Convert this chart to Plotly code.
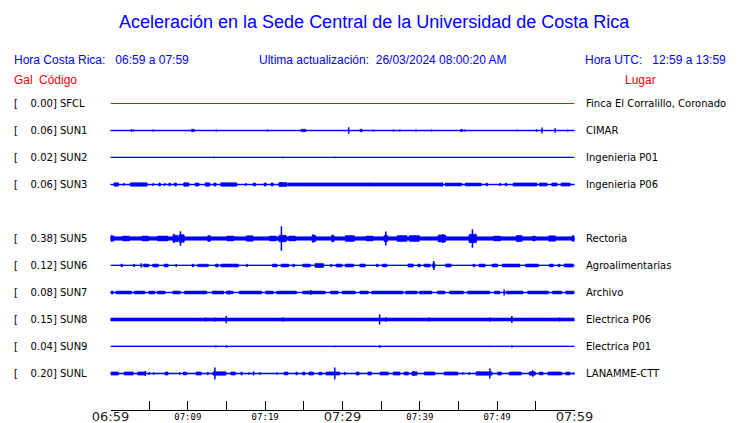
import plotly.graph_objects as go

# ---------------- text / data ----------------
title_text = "Aceleración en la Sede Central de la Universidad de Costa Rica"
hora_cr = "06:59 a 07:59"
ultima = "26/03/2024 08:00:20 AM"
hora_utc = "12:59 a 13:59"

codes = ["SFCL", "SUN1", "SUN2", "SUN3", "SUN5", "SUN6", "SUN7", "SUN8", "SUN9", "SUNL"]
max_gal = [0.00, 0.06, 0.02, 0.06, 0.38, 0.12, 0.08, 0.15, 0.04, 0.20]
places = ["Finca El Corralillo, Coronado", "CIMAR", "Ingenieria P01", "Ingenieria P06",
          "Rectoria", "Agroalimentarias", "Archivo", "Electrica P06", "Electrica P01", "LANAMME-CTT"]

# minutes after 06:59
tick_minutes = [0, 5, 10, 15, 20, 25, 30, 35, 40, 45, 50, 55, 60]
major_labels = ["06:59", "", "", "", "", "", "07:29", "", "", "", "", "", "07:59"]
minor_minutes = [10, 20, 40, 50]
minor_labels = ["07:09", "07:19", "07:39", "07:49"]

# background noise level of each trace (Gal)
noise_floor = [0.0, 0.012, 0.008, 0.012, 0.052, 0.010, 0.012, 0.046, 0.010, 0.015]

# bursts: (start minute, end minute, half amplitude in Gal)
bursts_SFCL = []
bursts_SUN1 = [(10.4, 10.9, 0.04), (24.6, 25.3, 0.04), (32.2, 32.6, 0.04), (45.2, 45.6, 0.035)]
bursts_SUN2 = []
bursts_SUN3 = [(0.4, 1.1, 0.055), (1.6, 1.8, 0.05), (2.5, 4.8, 0.055), (5.4, 5.6, 0.05), (6.2, 6.5, 0.05),
               (6.9, 7.1, 0.05), (7.5, 7.8, 0.05), (8.2, 8.6, 0.05), (9.4, 10.2, 0.055), (10.9, 11.5, 0.05),
               (12.2, 12.9, 0.055), (13.3, 13.7, 0.05), (14.2, 16.4, 0.055), (17.4, 17.6, 0.05),
               (18.4, 18.8, 0.05), (19.8, 20.2, 0.05), (20.7, 21.1, 0.05), (21.7, 22.9, 0.06),
               (22.9, 33.6, 0.05), (33.6, 42.9, 0.05), (43.2, 45.5, 0.045), (45.8, 48.0, 0.045),
               (48.5, 48.8, 0.045), (50.3, 50.5, 0.045), (51.0, 51.3, 0.045), (52.0, 55.2, 0.05),
               (55.4, 56.5, 0.05), (57.0, 57.8, 0.05), (58.2, 59.5, 0.05)]
bursts_SUN5 = [(0.0, 0.5, 0.085), (1.5, 2.5, 0.075), (4.0, 5.0, 0.075), (6.0, 7.5, 0.075), (8.0, 8.8, 0.10),
               (8.8, 9.6, 0.12), (12.5, 13.0, 0.085), (15.0, 16.0, 0.075), (17.5, 18.5, 0.085),
               (20.5, 21.5, 0.075), (21.7, 22.8, 0.10), (23.0, 24.0, 0.075), (26.0, 26.6, 0.10),
               (28.5, 29.0, 0.09), (30.3, 31.6, 0.09), (33.0, 34.0, 0.075), (35.3, 35.9, 0.10),
               (37.0, 38.4, 0.09), (38.6, 40.0, 0.09), (42.3, 43.4, 0.11), (46.3, 47.4, 0.13),
               (49.5, 50.5, 0.075), (52.4, 53.3, 0.09), (54.5, 55.0, 0.075), (56.6, 57.6, 0.085),
               (59.6, 60.0, 0.085)]
bursts_SUN6 = [(1.3, 1.6, 0.045), (2.9, 3.2, 0.04), (4.2, 5.0, 0.045), (5.4, 6.25, 0.045), (6.9, 7.5, 0.045),
               (10.5, 10.8, 0.045), (11.2, 12.7, 0.04), (13.5, 14.0, 0.045), (14.2, 16.6, 0.045),
               (17.5, 17.8, 0.04), (20.9, 21.6, 0.045), (22.0, 23.1, 0.045), (23.5, 23.9, 0.04),
               (24.8, 25.9, 0.045), (26.5, 27.6, 0.065), (28.4, 28.7, 0.04), (29.1, 30.0, 0.045),
               (30.3, 31.5, 0.045), (32.2, 33.0, 0.045), (34.3, 34.7, 0.04), (35.1, 35.8, 0.045),
               (38.4, 39.2, 0.05), (39.7, 40.1, 0.045), (40.5, 41.4, 0.045), (41.6, 42.0, 0.07),
               (43.3, 44.1, 0.05), (46.8, 47.2, 0.04), (47.6, 48.5, 0.045), (49.4, 50.1, 0.05),
               (50.6, 53.0, 0.045), (53.6, 55.4, 0.045), (56.7, 57.3, 0.045), (57.8, 58.2, 0.04),
               (58.6, 59.9, 0.05)]
bursts_SUN7 = [(0.0, 0.4, 0.045), (0.65, 2.8, 0.045), (3.0, 4.5, 0.045), (4.9, 5.8, 0.045), (6.0, 7.1, 0.045),
               (8.0, 9.1, 0.045), (9.5, 12.5, 0.045), (13.1, 14.7, 0.045), (14.9, 15.9, 0.045),
               (16.6, 19.6, 0.045), (20.0, 21.1, 0.045), (21.4, 24.1, 0.045), (24.8, 27.8, 0.045),
               (28.4, 29.5, 0.045), (29.9, 31.7, 0.045), (32.2, 33.4, 0.045), (33.7, 37.9, 0.045),
               (38.1, 39.7, 0.045), (39.9, 41.6, 0.045), (42.2, 43.3, 0.045), (43.8, 45.7, 0.045),
               (46.1, 49.1, 0.045), (49.6, 50.4, 0.045), (51.1, 53.4, 0.045), (53.9, 56.7, 0.045),
               (57.1, 58.4, 0.045), (58.8, 60.0, 0.045)]
bursts_SUN8 = []
bursts_SUN9 = []
bursts_SUNL = [(0.0, 1.1, 0.05), (1.7, 3.0, 0.05), (3.45, 4.5, 0.05), (4.9, 5.1, 0.045), (5.55, 5.65, 0.045),
               (7.0, 7.5, 0.05), (8.9, 9.0, 0.045), (9.35, 9.9, 0.045), (11.0, 11.8, 0.05), (12.5, 12.7, 0.045),
               (13.2, 15.0, 0.055), (15.5, 16.2, 0.05), (16.8, 17.1, 0.05), (17.8, 18.0, 0.045),
               (19.3, 19.4, 0.045), (21.5, 21.6, 0.045), (22.4, 23.0, 0.045), (23.9, 24.2, 0.045),
               (24.8, 25.2, 0.05), (25.6, 26.3, 0.05), (26.9, 27.4, 0.045), (27.8, 29.7, 0.05),
               (30.2, 30.4, 0.045), (31.7, 32.2, 0.05), (33.2, 33.8, 0.05), (34.8, 36.0, 0.05),
               (36.5, 37.5, 0.05), (37.9, 38.6, 0.05), (38.9, 39.7, 0.055), (40.5, 42.0, 0.05),
               (43.1, 45.0, 0.05), (45.5, 45.6, 0.045), (46.3, 46.5, 0.045), (47.2, 49.4, 0.055),
               (50.0, 50.6, 0.05), (51.5, 53.2, 0.05), (54.1, 55.0, 0.055), (55.4, 56.0, 0.045),
               (56.5, 58.4, 0.05), (58.8, 59.5, 0.045), (59.8, 60.0, 0.045)]

# spikes: (minute, peak amplitude in Gal)
spikes_SFCL = []
spikes_SUN1 = [(2.7, 0.04), (3.0, 0.035), (5.5, 0.035), (13.7, 0.03), (20.3, 0.03), (30.8, 0.10), (34.0, 0.03),
               (36.6, 0.03), (37.4, 0.03), (39.5, 0.03), (41.5, 0.03), (45.8, 0.03), (52.6, 0.02),
               (55.1, 0.04), (55.8, 0.09), (57.5, 0.07), (59.1, 0.03)]
spikes_SUN2 = [(13.4, 0.02), (22.3, 0.02), (29.0, 0.02)]
spikes_SUN3 = [(22.0, 0.07), (33.6, 0.06), (42.9, 0.07)]
spikes_SUN5 = [(0.1, 0.10), (8.2, 0.15), (9.05, 0.23), (12.7, 0.10), (22.1, 0.38), (26.2, 0.13), (28.7, 0.12),
               (35.6, 0.22), (43.0, 0.14), (46.8, 0.29), (52.7, 0.11), (59.9, 0.09)]
spikes_SUN6 = [(3.97, 0.07), (8.5, 0.05), (26.5, 0.07), (32.6, 0.05), (41.8, 0.14), (49.4, 0.05)]
spikes_SUN7 = [(15.3, 0.06), (25.9, 0.07), (50.9, 0.09)]
spikes_SUN8 = [(12.3, 0.06), (13.5, 0.065), (14.96, 0.115), (22.3, 0.07), (34.8, 0.16), (35.6, 0.07),
               (41.2, 0.06), (49.05, 0.06), (51.9, 0.11), (58.1, 0.06)]
spikes_SUN9 = [(13.6, 0.03), (15.0, 0.04), (29.0, 0.02), (34.8, 0.04), (49.0, 0.02), (51.9, 0.04)]
spikes_SUNL = [(4.5, 0.08), (13.5, 0.19), (18.5, 0.06), (29.0, 0.19), (39.2, 0.08), (49.05, 0.16), (54.6, 0.10)]

bursts = {"SFCL": bursts_SFCL, "SUN1": bursts_SUN1, "SUN2": bursts_SUN2, "SUN3": bursts_SUN3,
          "SUN5": bursts_SUN5, "SUN6": bursts_SUN6, "SUN7": bursts_SUN7, "SUN8": bursts_SUN8,
          "SUN9": bursts_SUN9, "SUNL": bursts_SUNL}
spikes = {"SFCL": spikes_SFCL, "SUN1": spikes_SUN1, "SUN2": spikes_SUN2, "SUN3": spikes_SUN3,
          "SUN5": spikes_SUN5, "SUN6": spikes_SUN6, "SUN7": spikes_SUN7, "SUN8": spikes_SUN8,
          "SUN9": spikes_SUN9, "SUNL": spikes_SUNL}

# ---------------- layout geometry ----------------
OFF = 8                      # page body margin: the figure starts 8 px in
W, H = 740 - OFF, 423 - OFF  # figure fits the 740x423 window exactly


def fx(page_x):
    return (page_x - OFF) / W


def fy(page_y):
    return 1 - (page_y - OFF) / H


PX_PER_GAL = 32.0
ROW_PX = 27.0
FIRST_ROW_FIG = 103.5 - OFF
row_slot = [0, 1, 2, 3, 5, 6, 7, 8, 9, 10]   # SUN4 row left empty
row_step = ROW_PX / PX_PER_GAL
y_top = FIRST_ROW_FIG / PX_PER_GAL
y_bot = (FIRST_ROW_FIG - H) / PX_PER_GAL
TAPER_MIN = 0.08   # short ramp (minutes) at each end of a burst

BLUE = "#0000ff"
RED = "#ff0000"
t0, t1 = tick_minutes[0], tick_minutes[-1]

fig = go.Figure()
for i, code in enumerate(codes):
    y0 = -row_slot[i] * row_step
    col = RED if code == "SFCL" else BLUE
    xs, ys = [], []
    # continuous noise floor band
    if noise_floor[i] > 0:
        a = noise_floor[i]
        xs += [t0, t1, t1, t0, t0, None]
        ys += [y0 + a, y0 + a, y0 - a, y0 - a, y0 + a, None]
    # bursts
    for s, e, a in bursts[code]:
        q = min(TAPER_MIN, (e - s) * 0.25)
        xs += [s, s + q, e - q, e, e - q, s + q, s, None]
        ys += [y0, y0 + a, y0 + a, y0, y0 - a, y0 - a, y0, None]
    if xs:
        fig.add_trace(go.Scatter(x=xs, y=ys, mode="lines", fill="toself", fillcolor=col,
                                 line=dict(color=col, width=0.6), hoverinfo="skip"))
    # spikes
    if spikes[code]:
        xs, ys = [], []
        for t, a in spikes[code]:
            xs += [t, t, None]
            ys += [y0 - a, y0 + a, None]
        fig.add_trace(go.Scatter(x=xs, y=ys, mode="lines", line=dict(color=col, width=1.5),
                                 hoverinfo="skip"))
    # baseline (drawn last, on top)
    fig.add_trace(go.Scatter(x=[t0, t1], y=[y0, y0], mode="lines",
                             line=dict(color=col, width=1), hoverinfo="skip"))

# dummy trace to activate the secondary (minor label) axis
fig.add_trace(go.Scatter(x=[None], y=[None], xaxis="x2", mode="lines", hoverinfo="skip"))

PAD = 3
ann = []
LAB_FONT = dict(family="DejaVu Sans", size=10, color="black")
for i, code in enumerate(codes):
    yp = fy(103.5 + row_slot[i] * ROW_PX)
    ann.append(dict(x=fx(15 - PAD), y=yp, xref="paper", yref="paper", xanchor="left", yanchor="middle",
                    text="[\u00a0\u00a0\u00a0\u00a0%.2f] %s" % (max_gal[i], code), showarrow=False,
                    font=LAB_FONT))
    ann.append(dict(x=fx(587 - PAD), y=yp, xref="paper", yref="paper", xanchor="left", yanchor="middle",
                    text=places[i], showarrow=False, font=LAB_FONT))

HDR = dict(family="Liberation Sans", size=12, color=BLUE)
RHDR = dict(family="Liberation Sans", size=12, color=RED)
ann.append(dict(x=fx(375), y=fy(22), xref="paper", yref="paper", xanchor="center", yanchor="middle",
                text=title_text, showarrow=False, font=dict(family="Liberation Sans", size=18, color=BLUE)))
ann.append(dict(x=fx(15 - PAD), y=fy(60), xref="paper", yref="paper", xanchor="left", yanchor="middle",
                text="Hora Costa Rica:\u00a0\u00a0\u00a0" + hora_cr, showarrow=False, font=HDR))
ann.append(dict(x=fx(260 - PAD), y=fy(60), xref="paper", yref="paper", xanchor="left", yanchor="middle",
                text="Ultima actualización:\u00a0\u00a0" + ultima, showarrow=False, font=HDR))
ann.append(dict(x=fx(725 + PAD), y=fy(60), xref="paper", yref="paper", xanchor="right", yanchor="middle",
                text="Hora UTC:\u00a0\u00a0\u00a0" + hora_utc, showarrow=False, font=HDR))
ann.append(dict(x=fx(15 - PAD), y=fy(80), xref="paper", yref="paper", xanchor="left", yanchor="middle",
                text="Gal", showarrow=False, font=RHDR))
ann.append(dict(x=fx(40 - PAD), y=fy(80), xref="paper", yref="paper", xanchor="left", yanchor="middle",
                text="Código", showarrow=False, font=RHDR))
ann.append(dict(x=fx(655 + PAD), y=fy(80), xref="paper", yref="paper", xanchor="right", yanchor="middle",
                text="Lugar", showarrow=False, font=RHDR))

axis_pos = fy(409.5)
dom = [fx(110.5), fx(574.5)]
fig.update_layout(
    width=W, height=H, margin=dict(l=0, r=0, t=0, b=0, autoexpand=False),
    paper_bgcolor="white", plot_bgcolor="white", showlegend=False,
    annotations=ann,
    xaxis=dict(domain=dom, range=[t0, t1], anchor="free", position=axis_pos, side="bottom",
               showgrid=False, zeroline=False, showline=True, linecolor="black", linewidth=1,
               ticks="inside", ticklen=9, tickwidth=1, tickcolor="black",
               tickvals=tick_minutes, ticktext=major_labels, automargin=False, ticklabelstandoff=-5,
               tickfont=dict(family="DejaVu Sans", size=13, color="#222222"), fixedrange=True),
    xaxis2=dict(domain=dom, range=[t0, t1], anchor="free", position=axis_pos, side="bottom",
                overlaying="x", showgrid=False, zeroline=False, showline=False, ticks="",
                tickvals=minor_minutes, ticktext=minor_labels, automargin=False, ticklabelstandoff=0,
                tickfont=dict(family="DejaVu Sans Mono", size=9, color="black"), fixedrange=True),
    yaxis=dict(domain=[0, 1], range=[y_bot, y_top], visible=False, showgrid=False, zeroline=False,
               showline=False, fixedrange=True, automargin=False),
)
fig.write_html("out.html", config={"displayModeBar": False})
